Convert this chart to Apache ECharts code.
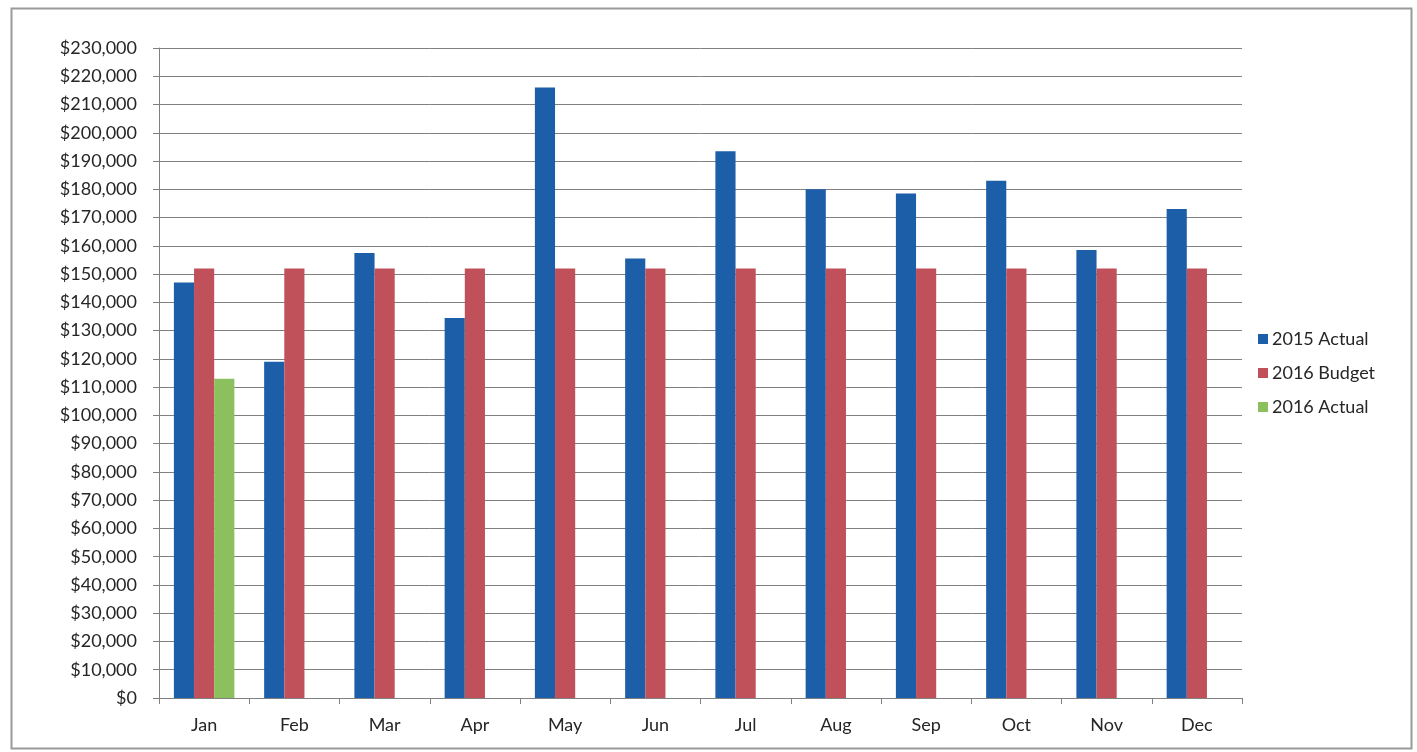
<!DOCTYPE html>
<html>
<head>
<meta charset="utf-8">
<script src="https://cdn.jsdelivr.net/npm/echarts@6/dist/echarts.min.js"></script>
<style>
html,body{margin:0;padding:0;background:#fff;}
#c{width:1417px;height:752px;}
</style>
</head>
<body>
<div id="c"></div>
<script>
var categories = ['Jan','Feb','Mar','Apr','May','Jun','Jul','Aug','Sep','Oct','Nov','Dec'];
var actual2015 = [147000,119000,157500,134500,216000,155500,193500,180000,178500,183000,158500,173000];
var budget2016 = [152000,152000,152000,152000,152000,152000,152000,152000,152000,152000,152000,152000];
var actual2016 = [113000,null,null,null,null,null,null,null,null,null,null,null];
var seriesNames = ['2015 Actual','2016 Budget','2016 Actual'];

var chart = echarts.init(document.getElementById('c'), null, {renderer:'canvas'});
var font = 'Lato';
var fmt = function(v){ return '$' + v.toLocaleString('en-US'); };
chart.setOption({
  animation:false,
  backgroundColor:'#ffffff',
  color:['#1c5fa8','#c0505a','#8cbf5e'],
  graphic:[{
    type:'rect', left:9, top:6, shape:{width:1400,height:740},
    style:{fill:'none', stroke:'#9a9a9a', lineWidth:2}, silent:true
  }],
  legend:{
    orient:'vertical', left:1253, top:325,
    itemWidth:10, itemHeight:10, itemGap:16,
    icon:'rect',
    textStyle:{fontFamily:font, fontSize:18, color:'#262626', padding:[0,0,0,-1]},
    data:seriesNames
  },
  grid:{left:159, right:175, top:48, bottom:54, containLabel:false},
  xAxis:{
    type:'category', data:categories,
    axisLine:{lineStyle:{color:'#808080', width:1}},
    axisTick:{show:true, alignWithLabel:false, length:6, lineStyle:{color:'#808080'}},
    axisLabel:{fontFamily:font, fontSize:18, color:'#262626', margin:18}
  },
  yAxis:{
    type:'value', min:0, max:230000, interval:10000,
    axisLine:{show:true, lineStyle:{color:'#808080', width:1}},
    axisTick:{show:true, length:6, lineStyle:{color:'#808080'}},
    splitLine:{lineStyle:{color:'#808080', width:1}},
    axisLabel:{fontFamily:font, fontSize:18, color:'#262626', margin:22, formatter:fmt}
  },
  series:[
    {name:seriesNames[0], type:'bar', data:actual2015, barGap:'0%', barCategoryGap:'33%'},
    {name:seriesNames[1], type:'bar', data:budget2016, barGap:'0%', barCategoryGap:'33%'},
    {name:seriesNames[2], type:'bar', data:actual2016, barGap:'0%', barCategoryGap:'33%'}
  ]
});
</script>
</body>
</html>
